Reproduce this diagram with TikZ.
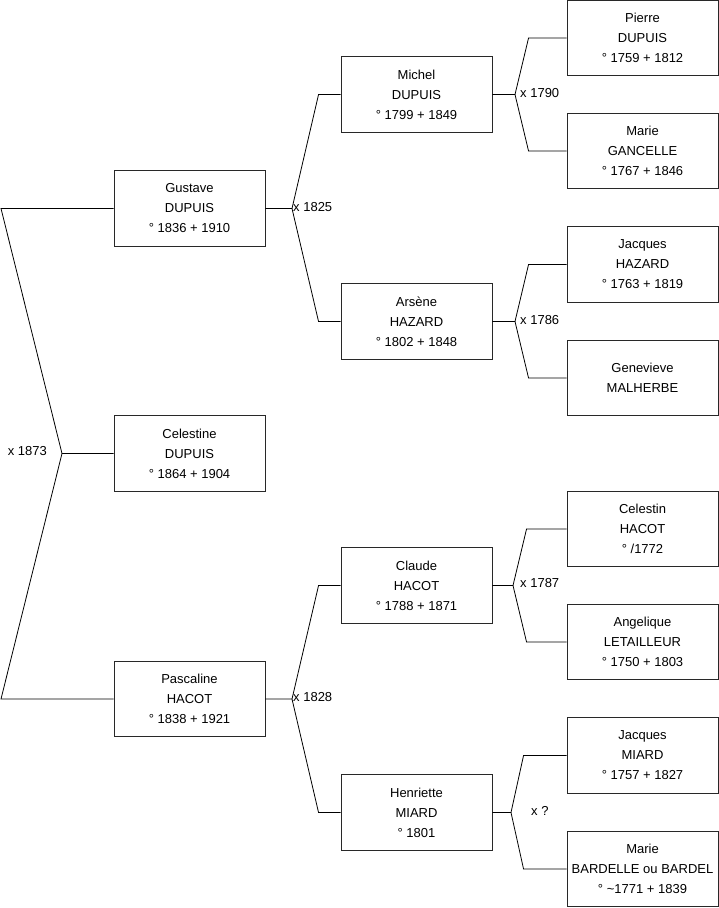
\documentclass[tikz,border=0pt]{standalone}
\usepackage{fontspec}
\setmainfont{Liberation Sans}
\definecolor{boxline}{RGB}{40,40,40}
\begin{document}
\begin{tikzpicture}[x=1pt,y=-1pt,
  person/.style={draw=boxline,line width=0.9pt,minimum width=151pt,minimum height=75.5pt,
    inner sep=0pt,align=center,font=\fontsize{13}{20}\selectfont},
  link/.style={draw=black,line width=0.8pt},
  mlabel/.style={inner sep=0pt,font=\fontsize{13}{16}\selectfont}]
\useasboundingbox (0,0) rectangle (719,908);
% generation 1
\node[person] (gus) at (189.5,208.5) {Gustave\\DUPUIS\\° 1836 + 1910};
\node[person] (cel) at (189.5,453.5) {Celestine\\DUPUIS\\° 1864 + 1904};
\node[person] (pas) at (189.5,699) {Pascaline\\HACOT\\° 1838 + 1921};
% generation 2
\node[person] (mic) at (416.5,94.5) {Michel\\DUPUIS\\° 1799 + 1849};
\node[person] (ars) at (416.5,321.5) {Arsène\\HAZARD\\° 1802 + 1848};
\node[person] (cla) at (416.5,585.5) {Claude\\HACOT\\° 1788 + 1871};
\node[person] (hen) at (416.5,812.5) {Henriette\\MIARD\\° 1801};
% generation 3
\node[person] (pie) at (642.5,38) {Pierre\\DUPUIS\\° 1759 + 1812};
\node[person] (mga) at (642.5,151) {Marie\\GANCELLE\\° 1767 + 1846};
\node[person] (jha) at (642.5,264.5) {Jacques\\HAZARD\\° 1763 + 1819};
\node[person] (gen) at (642.5,378) {Genevieve\\MALHERBE};
\node[person] (chc) at (642.5,529) {Celestin\\HACOT\\° /1772};
\node[person] (ang) at (642.5,642) {Angelique\\LETAILLEUR\\° 1750 + 1803};
\node[person] (jmi) at (642.5,755.5) {Jacques\\MIARD\\° 1757 + 1827};
\node[person] (mba) at (642.5,869) {Marie\\BARDELLE ou BARDEL\\° \textasciitilde 1771 + 1839};
% junction points
\coordinate (t0) at (62,453.5);
\coordinate (l0a) at (1,208.5);
\coordinate (l0b) at (1,699);
\coordinate (t1) at (292,208.5);
\coordinate (t2) at (292,699);
\coordinate (t3) at (515,94.5);
\coordinate (t4) at (515,321.5);
\coordinate (t5) at (513,585.5);
\coordinate (t6) at (511,812.5);
% connectors
\draw[link] (cel.west) -- (t0) -- (l0a) -- (gus.west);
\draw[link] (t0) -- (l0b) -- (pas.west);
\draw[link] (gus.east) -- (t1) -- ([xshift=-22pt]mic.west) -- (mic.west);
\draw[link] (t1) -- ([xshift=-22pt]ars.west) -- (ars.west);
\draw[link] (pas.east) -- (t2) -- ([xshift=-22pt]cla.west) -- (cla.west);
\draw[link] (t2) -- ([xshift=-22pt]hen.west) -- (hen.west);
\draw[link] (mic.east) -- (t3) -- ([xshift=-38pt]pie.west) -- (pie.west);
\draw[link] (t3) -- ([xshift=-38pt]mga.west) -- (mga.west);
\draw[link] (ars.east) -- (t4) -- ([xshift=-38pt]jha.west) -- (jha.west);
\draw[link] (t4) -- ([xshift=-38pt]gen.west) -- (gen.west);
\draw[link] (cla.east) -- (t5) -- ([xshift=-40pt]chc.west) -- (chc.west);
\draw[link] (t5) -- ([xshift=-40pt]ang.west) -- (ang.west);
\draw[link] (hen.east) -- (t6) -- ([xshift=-43pt]jmi.west) -- (jmi.west);
\draw[link] (t6) -- ([xshift=-43pt]mba.west) -- (mba.west);
% marriage labels
\node[mlabel,anchor=east] (m0) at (47,451) {x 1873};
\node[mlabel,anchor=west] (m1) at (293,207) {x 1825};
\node[mlabel,anchor=west] (m2) at (293,697) {x 1828};
\node[mlabel,anchor=west] (m3) at (520,93) {x 1790};
\node[mlabel,anchor=west] (m4) at (520,320) {x 1786};
\node[mlabel,anchor=west] (m5) at (520,583) {x 1787};
\node[mlabel,anchor=west] (m6) at (531,811) {x ?};
\end{tikzpicture}
\end{document}
